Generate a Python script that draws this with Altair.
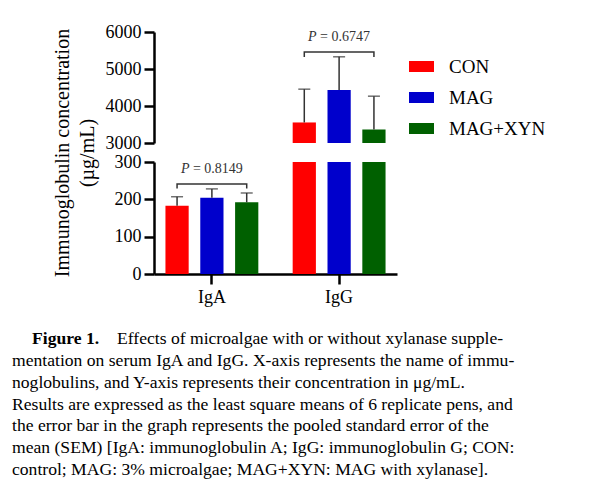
import altair as alt
import pandas as pd

# ---- data -----------------------------------------------------------------
IG = ["IgA", "IgG"]
GROUPS = ["CON", "MAG", "MAG+XYN"]
COLORS = ["#ff0000", "#0000cc", "#006000"]

IGA_MEAN = [183, 204, 192]
IGG_MEAN = [3555, 4430, 3365]
IGA_SEM = [24, 24, 25]
IGG_SEM = [900, 900, 900]

P_VALUES = ["0.8149", "0.6747"]
BRACKET_LEVEL = [241, 5460]
BRACKET_END = [229, 5325]
P_LABEL_Y = [281, 5865]

LOW_TICKS = [0, 100, 200, 300]
HIGH_TICKS = [3000, 4000, 5000, 6000]

Y_TITLE = ["Immunoglobulin concentration", "(µg/mL)"]
CAPTION_HEAD = "Figure 1."
CAPTION_FIRST = "Effects of microalgae with or without xylanase supple-"
CAPTION_REST = [
    "mentation on serum IgA and IgG. X-axis represents the name of immu-",
    "noglobulins, and Y-axis represents their concentration in μg/mL.",
    "Results are expressed as the least square means of 6 replicate pens, and",
    "the error bar in the graph represents the pooled standard error of the",
    "mean (SEM) [IgA: immunoglobulin A; IgG: immunoglobulin G; CON:",
    "control; MAG: 3% microalgae; MAG+XYN: MAG with xylanase].",
]

# ---- tables ---------------------------------------------------------------
bars = pd.DataFrame(
    [
        {"ig": ig, "group": g, "mean": m, "sem": s}
        for ig, means, sems in zip(IG, [IGA_MEAN, IGG_MEAN], [IGA_SEM, IGG_SEM])
        for g, m, s in zip(GROUPS, means, sems)
    ]
)

brackets = pd.DataFrame(
    [
        {"ig": ig, "seq": i, "group": g, "yv": y}
        for ig, lvl, end in zip(IG, BRACKET_LEVEL, BRACKET_END)
        for i, (g, y) in enumerate(
            [(GROUPS[0], end), (GROUPS[0], lvl), (GROUPS[-1], lvl), (GROUPS[-1], end)]
        )
    ]
)

plabels = pd.DataFrame(
    [{"ig": ig, "group": GROUPS[1], "yv": y, "p": "= " + p}
     for ig, y, p in zip(IG, P_LABEL_Y, P_VALUES)]
)

# ---- geometry -------------------------------------------------------------
W, H = 243, 242
LOW_RANGE = [H, H - 112]      # 0..300 segment
HIGH_RANGE = [111, 0]         # 3000..6000 segment
SERIF = "Liberation Serif"
INK = "#333333"
CAP_SIZE = 17.6

x_enc = alt.X(
    "ig:N",
    sort=IG,
    scale=alt.Scale(domain=IG, paddingInner=0.27, paddingOuter=0.09),
    axis=alt.Axis(
        title=None, labelAngle=0, labelFont=SERIF, labelFontSize=18,
        labelColor="black", labelPadding=4, domainColor="black",
        domainWidth=2.5, tickColor="black", tickWidth=2.5, tickSize=10,
    ),
)
xo_enc = alt.XOffset(
    "group:N", sort=GROUPS,
    scale=alt.Scale(domain=GROUPS, paddingInner=0.333, paddingOuter=0),
)


def y_axis(ticks):
    return alt.Axis(
        title=None, orient="left", values=ticks, format="d", grid=False,
        labelFont=SERIF, labelFontSize=18, labelColor="black", labelPadding=3,
        labelFlush=False, labelOverlap=False, domainColor="black",
        domainWidth=2.5, tickColor="black", tickWidth=2.5, tickSize=10,
    )


def y_enc(field, domain, rng, ticks):
    return alt.Y(field, scale=alt.Scale(domain=domain, range=rng, nice=False, zero=False),
                 axis=y_axis(ticks))


color_enc = alt.Color(
    "group:N",
    sort=GROUPS,
    scale=alt.Scale(domain=GROUPS, range=COLORS),
    legend=alt.Legend(
        title=None, orient="none", legendX=255, legendY=22, padding=0,
        symbolType="M-1,-0.44L1,-0.44L1,0.44L-1,0.44Z", symbolSize=625,
        symbolStrokeWidth=0, symbolOpacity=1, labelFont=SERIF,
        labelFontSize=19, labelColor="black", labelOffset=15, rowPadding=8,
    ),
)


def segment(lo, hi, rng, ticks):
    """Bars, error bars, bracket and P label for one y-axis segment."""
    base = alt.Chart(bars).transform_calculate(top="datum.mean + datum.sem")

    bar = base.transform_filter(f"datum.mean > {lo}").transform_calculate(
        shown=f"min(datum.mean, {hi})"
    ).mark_bar().encode(
        x=x_enc, xOffset=xo_enc,
        y=y_enc("shown:Q", [lo, hi], rng, ticks),
        y2=alt.datum(lo),
        color=color_enc,
    )

    err_base = base.transform_filter(f"datum.top <= {hi} && datum.mean >= {lo}")
    err_line = err_base.mark_rule(color=INK, strokeWidth=1.5).encode(
        x=x_enc, xOffset=xo_enc,
        y=y_enc("mean:Q", [lo, hi], rng, ticks),
        y2="top:Q",
    )
    err_cap = err_base.mark_tick(color=INK, size=12, thickness=1.5).encode(
        x=x_enc, xOffset=xo_enc,
        y=y_enc("top:Q", [lo, hi], rng, ticks),
    )

    bracket = alt.Chart(brackets).transform_filter(
        f"datum.yv >= {lo} && datum.yv <= {hi}"
    ).mark_line(color=INK, strokeWidth=1.5).encode(
        x=x_enc, xOffset=xo_enc,
        y=y_enc("yv:Q", [lo, hi], rng, ticks),
        order="seq:Q", detail="ig:N",
    )

    pl = alt.Chart(plabels).transform_filter(f"datum.yv >= {lo} && datum.yv <= {hi}")
    p_italic = pl.mark_text(
        text="P", font=SERIF, fontSize=14, fontStyle="italic", color=INK,
        align="left", baseline="middle", dx=-31,
    ).encode(x=x_enc, xOffset=xo_enc, y=y_enc("yv:Q", [lo, hi], rng, ticks))
    p_rest = pl.mark_text(
        font=SERIF, fontSize=14, color=INK, align="left", baseline="middle", dx=-19,
    ).encode(x=x_enc, xOffset=xo_enc, y=y_enc("yv:Q", [lo, hi], rng, ticks),
             text="p:N")

    return alt.layer(bar, err_line, err_cap, bracket, p_italic, p_rest)


lower = segment(0, 300, LOW_RANGE, LOW_TICKS)
upper = segment(3000, 6000, HIGH_RANGE, HIGH_TICKS)

one = alt.Data(values=[{}])

# page frame: pins the top-left corner of the figure
frame = alt.Chart(one).mark_rule(strokeOpacity=0).encode(
    x=alt.value(-154), x2=alt.value(446), y=alt.value(-32)
)

y_title = alt.Chart(one).mark_text(
    angle=270, align="center", baseline="middle", font=SERIF, fontSize=20,
    lineHeight=25, color="black",
).encode(x=alt.value(-91), y=alt.value(121), text=alt.value(Y_TITLE))

cap_head = alt.Chart(one).mark_text(
    align="left", baseline="alphabetic", font=SERIF, fontSize=CAP_SIZE,
    fontWeight="bold", color="black",
).encode(x=alt.value(-122), y=alt.value(312), text=alt.value(CAPTION_HEAD))

cap_first = alt.Chart(one).mark_text(
    align="left", baseline="alphabetic", font=SERIF, fontSize=CAP_SIZE, color="black",
).encode(x=alt.value(-37), y=alt.value(312), text=alt.value(CAPTION_FIRST))

cap_rest = alt.Chart(one).mark_text(
    align="left", baseline="alphabetic", font=SERIF, fontSize=CAP_SIZE, color="black",
    lineHeight=21.8,
).encode(x=alt.value(-142), y=alt.value(334), text=alt.value(CAPTION_REST))

chart = (
    alt.layer(lower, upper, frame, y_title, cap_head, cap_first, cap_rest)
    .resolve_scale(y="independent")
    .properties(width=W, height=H, padding=0, background="white")
    .configure_view(stroke=None)
    .configure_axis(labelFont=SERIF, labelColor="black")
)

chart.save("out.html", embed_options={"renderer": "svg", "actions": False})
